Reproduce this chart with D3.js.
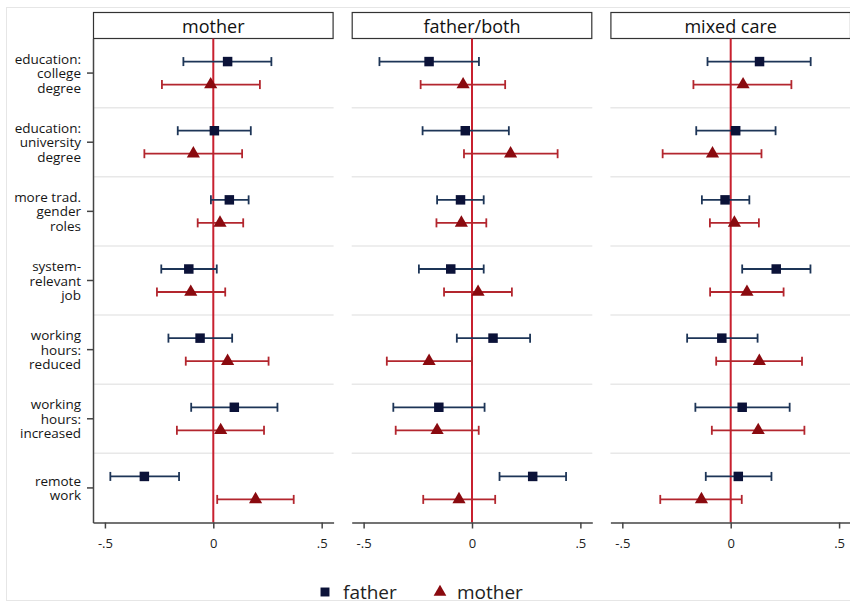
<!DOCTYPE html>
<meta charset="utf-8">
<title>Coefficient plot by care arrangement</title>
<style>
    body {
        margin: 0;
        background: #fff;
        font-family: "Open Sans", sans-serif;
    }

    svg {
        display: block;
    }

    .sep {
        stroke: #e8e8e8;
        stroke-width: 1.5;
    }

    .tick-label {
        font-size: 13px;
        fill: #222;
    }
</style>

<body>
    <svg width="850" height="605"></svg>

    <script src="https://d3js.org/d3.v7.min.js"></script>
    <script>
        // categories (one entry per row, split into display lines)
        const categories = [
            ["education:", "college", "degree"],
            ["education:", "university", "degree"],
            ["more trad.", "gender", "roles"],
            ["system-", "relevant", "job"],
            ["working", "hours:", "reduced"],
            ["working", "hours:", "increased"],
            ["remote", "work"]
        ];
        const panels = ["mother", "father/both", "mixed care"];
        const xTicks = [-0.5, 0, 0.5];
        const xTickLabels = ["-.5", "0", ".5"];

        // estimates and 95% CIs, one row per panel
        const fatherEst = [
            [0.066, 0.005, 0.074, -0.113, -0.061, 0.097, -0.318],
            [-0.198, -0.031, -0.053, -0.098, 0.097, -0.153, 0.280],
            [0.133, 0.023, -0.026, 0.210, -0.041, 0.053, 0.035]
        ];
        const fatherLo = [
            [-0.138, -0.164, -0.011, -0.240, -0.207, -0.102, -0.475],
            [-0.427, -0.228, -0.161, -0.245, -0.070, -0.363, 0.127],
            [-0.107, -0.159, -0.133, 0.053, -0.201, -0.163, -0.115]
        ];
        const fatherHi = [
            [0.268, 0.173, 0.163, 0.016, 0.087, 0.296, -0.158],
            [0.032, 0.170, 0.054, 0.054, 0.268, 0.058, 0.434],
            [0.369, 0.207, 0.086, 0.368, 0.124, 0.272, 0.188]
        ];
        const motherEst = [
            [-0.012, -0.092, 0.031, -0.104, 0.066, 0.034, 0.195],
            [-0.041, 0.178, -0.049, 0.028, -0.198, -0.161, -0.060],
            [0.057, -0.084, 0.017, 0.075, 0.132, 0.127, -0.135]
        ];
        const motherLo = [
            [-0.237, -0.318, -0.072, -0.260, -0.127, -0.168, 0.018],
            [-0.237, -0.037, -0.164, -0.129, -0.393, -0.352, -0.225],
            [-0.172, -0.314, -0.096, -0.095, -0.067, -0.087, -0.325]
        ];
        const motherHi = [
            [0.215, 0.133, 0.138, 0.055, 0.255, 0.234, 0.371],
            [0.153, 0.395, 0.066, 0.184, 0.000, 0.031, 0.107],
            [0.280, 0.142, 0.130, 0.244, 0.329, 0.340, 0.051]
        ];

        const series = [
            { name: "father", est: fatherEst, lo: fatherLo, hi: fatherHi, dy: -11.5,
              bar: "#1d3557", mark: "#0b1238", symbol: d3.symbolSquare, size: 90 },
            { name: "mother", est: motherEst, lo: motherLo, hi: motherHi, dy: 11.5,
              bar: "#b3262e", mark: "#8a0a0f", symbol: d3.symbolTriangle, size: 75 }
        ];

        const svg = d3.select("svg");

        // light outer frame
        svg.append("rect")
            .attr("x", 6.5).attr("y", 7.5)
            .attr("width", 850).attr("height", 593)
            .attr("fill", "none")
            .attr("stroke", "#e6e6e6");

        const plotTop = 38.5, plotBottom = 522.5;
        const px = d3.scaleBand().domain(panels).range([93, 851]).paddingInner(0.07);
        const y = d3.scaleBand().domain(d3.range(categories.length)).range([plotTop, plotBottom]);
        const x = d3.scaleLinear().domain([-0.555, 0.555]).range([0, px.bandwidth()]);

        panels.forEach((p, pi) => {
            const g = svg.append("g").attr("transform", `translate(${px(p)},0)`);

            // header box
            g.append("rect")
                .attr("x", 0.5).attr("y", 12.5)
                .attr("width", px.bandwidth() - 1).attr("height", 26)
                .attr("fill", "#fff")
                .attr("stroke", "#333")
                .attr("stroke-width", 1.2);
            g.append("text")
                .attr("x", px.bandwidth() / 2).attr("y", 26)
                .attr("text-anchor", "middle")
                .attr("dominant-baseline", "central")
                .attr("font-size", 18)
                .attr("fill", "#111")
                .text(p);

            // row separators
            g.selectAll("line.sep")
                .data(d3.range(1, categories.length))
                .join("line")
                .attr("class", "sep")
                .attr("x1", 0).attr("x2", px.bandwidth())
                .attr("y1", d => y(d)).attr("y2", d => y(d));

            // zero line
            g.append("line")
                .attr("x1", x(0)).attr("x2", x(0))
                .attr("y1", plotTop).attr("y2", plotBottom)
                .attr("stroke", "#c8202f")
                .attr("stroke-width", 2);

            // x axis
            const xAxis = d3.axisBottom(x)
                .tickValues(xTicks)
                .tickFormat((d, i) => xTickLabels[i])
                .tickSize(6)
                .tickSizeOuter(0);
            const ax = g.append("g")
                .attr("transform", `translate(0,${plotBottom})`)
                .call(xAxis);
            ax.select(".domain").attr("stroke", "#444").attr("stroke-width", 1.5);
            ax.selectAll(".tick line").attr("stroke", "#444").attr("stroke-width", 1.5);
            ax.selectAll(".tick text")
                .attr("class", "tick-label")
                .attr("font-family", "Open Sans, sans-serif")
                .attr("y", 16);

            // error bars and markers
            series.forEach(s => {
                const rows = d3.range(categories.length).map(i => ({
                    i, est: s.est[pi][i], lo: s.lo[pi][i], hi: s.hi[pi][i],
                    cy: y(i) + y.bandwidth() / 2 + s.dy
                }));
                const eg = g.append("g").attr("stroke", s.bar).attr("stroke-width", 1.8);
                eg.selectAll("line.ci").data(rows).join("line")
                    .attr("x1", d => x(d.lo)).attr("x2", d => x(d.hi))
                    .attr("y1", d => d.cy).attr("y2", d => d.cy);
                eg.append("g").selectAll("line").data(rows).join("line")
                    .attr("x1", d => x(d.lo)).attr("x2", d => x(d.lo))
                    .attr("y1", d => d.cy - 4.5).attr("y2", d => d.cy + 4.5);
                eg.append("g").selectAll("line").data(rows).join("line")
                    .attr("x1", d => x(d.hi)).attr("x2", d => x(d.hi))
                    .attr("y1", d => d.cy - 4.5).attr("y2", d => d.cy + 4.5);
                g.append("g").selectAll("path").data(rows).join("path")
                    .attr("d", d3.symbol(s.symbol, s.size))
                    .attr("transform", d => `translate(${x(d.est)},${d.cy})`)
                    .attr("fill", s.mark);
            });
        });

        // y axis on the first panel
        const yAxis = d3.axisLeft(y).tickSize(6).tickFormat("").tickSizeOuter(0);
        const ay = svg.append("g")
            .attr("transform", `translate(${px(panels[0])},0)`)
            .call(yAxis);
        ay.select(".domain").attr("stroke", "#444").attr("stroke-width", 1.5);
        ay.selectAll(".tick line").attr("stroke", "#444").attr("stroke-width", 1.5);

        const lineH = 14.5;
        svg.append("g").selectAll("text")
            .data(categories)
            .join("text")
            .attr("text-anchor", "end")
            .attr("font-size", 13.5)
            .attr("fill", "#151515")
            .attr("transform", (d, i) => `translate(81,${y(i) + y.bandwidth() / 2})`)
            .each(function (d) {
                const t = d3.select(this);
                const off = -(d.length - 1) / 2 * lineH;
                d.forEach((ln, k) => {
                    t.append("tspan")
                        .attr("x", 0)
                        .attr("y", off + k * lineH)
                        .attr("dominant-baseline", "central")
                        .text(ln);
                });
            });

        // legend
        const legend = svg.append("g").attr("transform", "translate(0,592)");
        legend.append("path")
            .attr("d", d3.symbol(d3.symbolSquare, 80))
            .attr("transform", "translate(325,0)")
            .attr("fill", "#0b1238");
        legend.append("text")
            .attr("x", 343).attr("y", 0)
            .attr("dominant-baseline", "central")
            .attr("font-size", 19)
            .attr("fill", "#222")
            .text("father");
        legend.append("path")
            .attr("d", d3.symbol(d3.symbolTriangle, 70))
            .attr("transform", "translate(440,0)")
            .attr("fill", "#8a0a0f");
        legend.append("text")
            .attr("x", 457).attr("y", 0)
            .attr("dominant-baseline", "central")
            .attr("font-size", 19)
            .attr("fill", "#222")
            .text("mother");
    </script>
</body>

</html>
